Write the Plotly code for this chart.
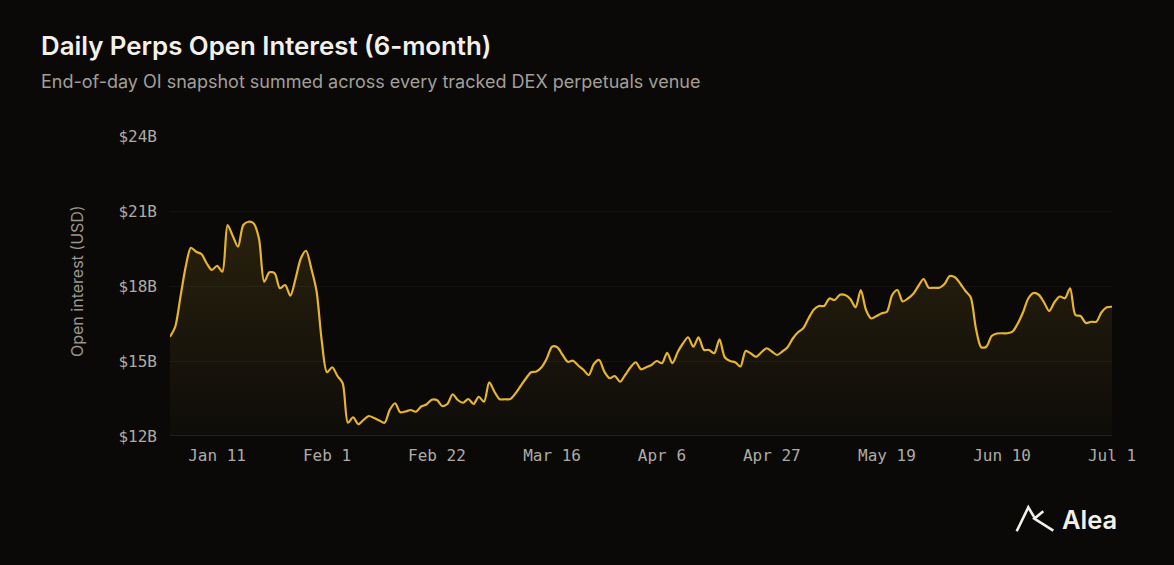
import datetime as dt
import plotly.graph_objects as go

# ---- data -------------------------------------------------------------
start_date = "2025-01-02"
oi_billions = [
    15.97, 16.37, 17.57, 18.77, 19.53, 19.37, 19.28, 18.91, 18.64, 18.81,
    18.57, 20.44, 20.00, 19.57, 20.44, 20.57, 20.50, 19.90, 18.17, 18.55,
    18.51, 17.91, 18.04, 17.61, 18.30, 19.10, 19.41, 18.70, 17.80, 15.80,
    14.55, 14.75, 14.40, 14.11, 12.53, 12.75, 12.47, 12.65, 12.80, 12.72,
    12.62, 12.53, 13.05, 13.31, 12.95, 12.98, 13.04, 12.97, 13.18, 13.26,
    13.45, 13.44, 13.20, 13.28, 13.67, 13.44, 13.33, 13.48, 13.28, 13.57,
    13.37, 14.15, 13.77, 13.47, 13.47, 13.48, 13.70, 14.00, 14.30, 14.55,
    14.58, 14.75, 15.10, 15.57, 15.55, 15.25, 14.97, 15.01, 14.82, 14.65,
    14.44, 14.88, 15.04, 14.57, 14.31, 14.40, 14.17, 14.45, 14.75, 14.95,
    14.67, 14.75, 14.84, 15.00, 14.91, 15.33, 14.91, 15.35, 15.70, 15.95,
    15.57, 15.95, 15.45, 15.44, 15.31, 15.87, 15.15, 15.00, 14.95, 14.78,
    15.40, 15.30, 15.17, 15.35, 15.51, 15.38, 15.24, 15.38, 15.55, 15.90,
    16.15, 16.31, 16.70, 17.05, 17.20, 17.20, 17.50, 17.44, 17.65, 17.64,
    17.48, 17.15, 17.84, 17.04, 16.70, 16.80, 16.91, 16.97, 17.64, 17.84,
    17.38, 17.50, 17.68, 18.00, 18.28, 17.93, 17.93, 17.93, 18.08, 18.40,
    18.35, 18.10, 17.80, 17.55, 16.30, 15.55, 15.57, 16.00, 16.10, 16.11,
    16.11, 16.18, 16.50, 16.95, 17.50, 17.72, 17.65, 17.35, 17.00, 17.35,
    17.58, 17.51, 17.91, 16.84, 16.80, 16.52, 16.57, 16.57, 16.95, 17.15,
    17.17,
]
tick_dates = ["2025-01-11", "2025-02-01", "2025-02-22", "2025-03-16", "2025-04-06",
              "2025-04-27", "2025-05-19", "2025-06-10", "2025-07-01"]
tick_text = ["Jan 11", "Feb 1", "Feb 22", "Mar 16", "Apr 6",
             "Apr 27", "May 19", "Jun 10", "Jul 1"]
y_ticks = [12, 15, 18, 21, 24]
y_tick_text = ["$12B", "$15B", "$18B", "$21B", "$24B"]
y_min, y_max = 12, 24

d0 = dt.date.fromisoformat(start_date)
dates = [(d0 + dt.timedelta(days=i)).isoformat() for i in range(len(oi_billions))]

# ---- style ------------------------------------------------------------
BG = "#0a0908"
GOLD = "#e6b42f"
W, H = 1174, 565
# plot area in screen pixels
SX0, SX1, SY0, SY1 = 170, 1112, 136, 436
L, R, T, B = SX0, W - SX1, SY0, H - SY1
PW, PH = SX1 - SX0, SY1 - SY0


def px(x):
    return (x - SX0) / PW


def py(y):
    return (SY1 - y) / PH


fig = go.Figure()
# baseline for the gradient fill
fig.add_trace(go.Scatter(x=dates, y=[y_min] * len(dates), mode="lines",
                         line=dict(width=0), hoverinfo="skip", showlegend=False))
fig.add_trace(go.Scatter(
    x=dates, y=oi_billions, mode="lines",
    line=dict(color=GOLD, width=2.2, shape="spline", smoothing=0.8),
    fill="tonexty",
    fillgradient=dict(type="vertical",
                      colorscale=[[0, "rgba(230,180,47,0.02)"], [1, "rgba(230,180,47,0.14)"]]),
    showlegend=False,
))

MONO = "DejaVu Sans Mono, Liberation Mono, monospace"
fig.update_layout(
    width=W, height=H,
    paper_bgcolor=BG, plot_bgcolor=BG,
    margin=dict(l=L, r=R, t=T, b=B, autoexpand=False),
    showlegend=False,
    font=dict(family="Inter, Roboto, sans-serif", color="#a7a49e"),
)
fig.update_xaxes(
    type="date",
    range=[dates[0], dates[-1]],
    tickvals=tick_dates, ticktext=tick_text,
    tickfont=dict(family=MONO, size=16, color="#aeaba4"),
    showgrid=False, zeroline=False,
    showline=False, ticks="", ticklabelstandoff=8,
)
fig.update_yaxes(
    range=[y_min, y_max],
    tickvals=y_ticks, ticktext=y_tick_text,
    tickfont=dict(family=MONO, size=16, color="#aeaba4"),
    showgrid=True, gridcolor="rgba(255,255,255,0.045)", gridwidth=1,
    zeroline=False, showline=False, ticks="", ticklabelstandoff=12,
)
# brighter baseline at $12B
fig.add_shape(type="line", xref="paper", yref="y", x0=0, x1=1, y0=y_min, y1=y_min,
              line=dict(color="#2b2926", width=1.5))

annotations = [
    dict(text="Daily Perps Open Interest (6-month)", x=px(39), y=py(46),
         xanchor="left", yanchor="middle",
         font=dict(family="Inter, sans-serif", size=25.8, weight=600, color="#f3f0ea")),
    dict(text="End-of-day OI snapshot summed across every tracked DEX perpetuals venue",
         x=px(39), y=py(81), xanchor="left", yanchor="middle",
         font=dict(family="Inter, sans-serif", size=18, color="#a29f99")),
    dict(text="Open interest (USD)", x=px(77), y=py(281), textangle=-90,
         xanchor="center", yanchor="middle",
         font=dict(family="Inter, sans-serif", size=16, color="#9a978f")),
    dict(text="Alea", x=px(1060), y=py(519), xanchor="left", yanchor="middle",
         font=dict(family="Inter, sans-serif", size=25.5, weight=600, color="#f3f0ea")),
]
for a in annotations:
    a.update(xref="paper", yref="paper", showarrow=False)
fig.update_layout(annotations=annotations)

# Alea logo mark (screen pixel points)
logo = [(1016.7, 531.3), (1028.3, 507.3), (1034.3, 517.3)]
logo2 = [(1043.3, 511.3), (1034.3, 518.7), (1053.3, 530.7)]


def path(pts):
    return "M " + " L ".join(f"{px(x):.5f},{py(y):.5f}" for x, y in pts)


for pts in (logo, logo2):
    fig.add_shape(type="path", xref="paper", yref="paper", path=path(pts),
                  line=dict(color="#f3f0ea", width=2.6))

fig.write_html(
    "out.html",
    config={"displayModeBar": False},
    post_script="document.body.style.margin='0';document.body.style.background='#0a0908';"
                "document.documentElement.style.background='#0a0908';",
)
